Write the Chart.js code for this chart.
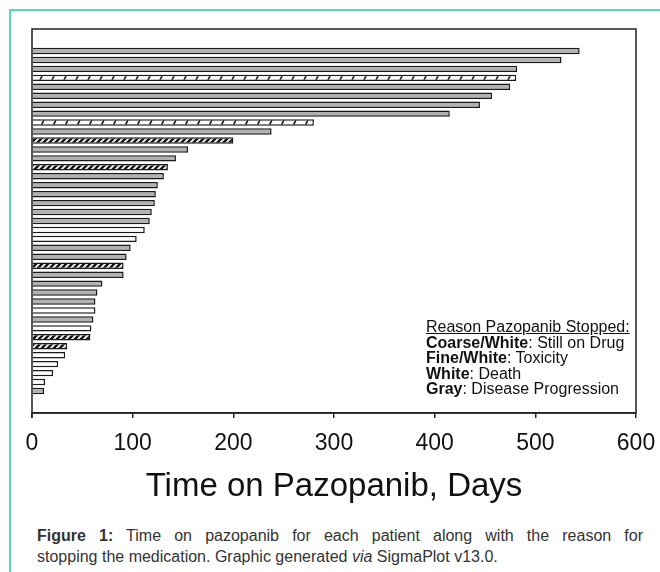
<!DOCTYPE html>
<html>
<head>
<meta charset="utf-8">
<script src="https://cdn.jsdelivr.net/npm/chart.js@4.4.1/dist/chart.umd.min.js"></script>
<style>
  body { margin: 0; background: #fff; font-family: "Liberation Sans", Arial, sans-serif; }
  #marco { position: absolute; left: 9px; top: 9px; width: 700px; height: 620px; border: 2px solid #55d2c2; }
  #grafica { position: absolute; left: 0; top: 0; }
  #leyenda { position: absolute; left: 426px; top: 319px; width: 210px; overflow: hidden; white-space: nowrap;
             font-size: 16px; line-height: 15.5px; color: #111; }
  #leyenda .tit { text-decoration: underline; }
  #pie { position: absolute; left: 37px; top: 525px; width: 606px; font-size: 16px; line-height: 21px; color: #333; }
  #pie .l1 { text-align: justify; text-align-last: justify; }
</style>
</head>
<body>
<div id="marco"></div>
<canvas id="grafica" width="660" height="510"></canvas>
<div id="leyenda">
  <div class="tit">Reason Pazopanib Stopped:</div>
  <div><b>Coarse/White</b>: Still on Drug</div>
  <div><b>Fine/White</b>: Toxicity</div>
  <div><b>White</b>: Death</div>
  <div><b>Gray</b>: Disease Progression</div>
</div>
<div id="pie">
  <div class="l1"><b>Figure 1:</b> Time on pazopanib for each patient along with the reason for</div>
  <div>stopping the medication. Graphic generated <i>via</i> SigmaPlot v13.0.</div>
</div>

<script>
// dias en pazopanib, de arriba hacia abajo
const dias = [544, 526, 482, 481, 475, 457, 445, 415, 280, 238,
              200, 155, 143, 135, 131, 125, 123, 122, 119, 117,
              112, 104, 98, 94, 91, 91, 70, 65, 63, 63,
              61, 59, 58, 35, 33, 26, 21, 13, 12];

// motivo de suspension de cada paciente
const motivos = ['Progresion', 'Progresion', 'Progresion', 'Sigue', 'Progresion', 'Progresion', 'Progresion', 'Progresion', 'Sigue', 'Progresion',
                 'Toxicidad', 'Progresion', 'Progresion', 'Toxicidad', 'Progresion', 'Progresion', 'Progresion', 'Progresion', 'Progresion', 'Progresion',
                 'Muerte', 'Muerte', 'Progresion', 'Progresion', 'Toxicidad', 'Progresion', 'Progresion', 'Progresion', 'Progresion', 'Muerte',
                 'Progresion', 'Muerte', 'Toxicidad', 'Toxicidad', 'Muerte', 'Muerte', 'Muerte', 'Muerte', 'Progresion'];

const ticksX = [0, 100, 200, 300, 400, 500, 600];
const tituloX = 'Time on Pazopanib, Days';

function patron(tam, dibujar) {
  const c = document.createElement('canvas');
  c.width = tam; c.height = tam;
  const g = c.getContext('2d');
  dibujar(g, tam);
  return g.createPattern(c, 'repeat');
}

const ctx = document.getElementById('grafica').getContext('2d');

const grueso = patron(12, (g, t) => {
  g.fillStyle = '#fff'; g.fillRect(0, 0, t, t);
  g.strokeStyle = '#111'; g.lineWidth = 1.6;
  g.beginPath();
  g.moveTo(2, t); g.lineTo(8, 0);
  g.stroke();
});

const fino = patron(6, (g, t) => {
  g.fillStyle = '#fff'; g.fillRect(0, 0, t, t);
  g.strokeStyle = '#111'; g.lineWidth = 2.4;
  g.beginPath();
  g.moveTo(0, t); g.lineTo(t, 0);
  g.moveTo(-1, 1); g.lineTo(1, -1);
  g.moveTo(t - 1, t + 1); g.lineTo(t + 1, t - 1);
  g.stroke();
});

const rellenos = {
  Progresion: '#b2b2b2',
  Sigue: grueso,
  Toxicidad: fino,
  Muerte: '#ffffff'
};

const marcoPlot = {
  id: 'marcoPlot',
  afterDraw(chart) {
    const a = chart.chartArea;
    const g = chart.ctx;
    g.save();
    g.strokeStyle = '#222';
    g.lineWidth = 1.5;
    g.strokeRect(a.left, a.top, a.right - a.left, a.bottom - a.top);
    g.beginPath();
    g.moveTo(a.left, a.bottom); g.lineTo(a.left, a.bottom + 5);
    g.stroke();
    g.restore();
  }
};

new Chart(ctx, {
  type: 'bar',
  data: {
    datasets: [{
      data: dias.map((d, i) => ({ x: d, y: i + 1 })),
      backgroundColor: motivos.map(m => rellenos[m]),
      borderColor: '#1a1a1a',
      borderWidth: 1.5,
      borderSkipped: 'start',
      categoryPercentage: 1,
      barPercentage: 0.72
    }]
  },
  plugins: [marcoPlot],
  options: {
    responsive: false,
    animation: false,
    indexAxis: 'y',
    layout: { padding: { left: 32, top: 29, right: 24, bottom: 0 } },
    plugins: { legend: { display: false }, tooltip: { enabled: false } },
    scales: {
      y: {
        type: 'linear',
        reverse: true,
        bounds: 'data',
        offset: false,
        min: -1.46,
        max: dias.length + 2.46,
        display: false
      },
      x: {
        type: 'linear',
        min: 0,
        max: 600,
        afterBuildTicks: s => { s.ticks = ticksX.map(v => ({ value: v })); },
        afterFit: s => { s.height = 97; s.paddingLeft = 0; s.paddingRight = 0; },
        grid: { drawOnChartArea: false, drawTicks: true, tickLength: 5, color: '#222', lineWidth: 1.5 },
        border: { display: true, color: '#222', width: 1.5 },
        ticks: { color: '#111', padding: 12, font: { family: 'Liberation Sans', size: 23 } },
        title: {
          display: true,
          text: tituloX,
          color: '#111',
          padding: { top: 0, bottom: 3 },
          font: { family: 'Liberation Sans', size: 33 }
        }
      }
    }
  }
});
</script>
</body>
</html>
